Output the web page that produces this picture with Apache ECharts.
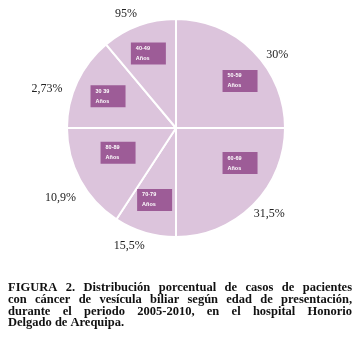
<!DOCTYPE html>
<html>
<head>
<meta charset="utf-8">
<script src="https://cdn.jsdelivr.net/npm/echarts@6/dist/echarts.min.js"></script>
<style>
html,body{margin:0;padding:0;background:#fff;}
#chart{width:358px;height:337px;}
</style>
</head>
<body>
<div id="chart"></div>
<script>
// ---- data ----
const ageRanges = ['50-59', '60-69', '70-79', '80-89', '30 39', '40-49'];
const unitLabel = 'Años';
// share of the circle each slice occupies as drawn (percent of 360°)
const sliceShare = [25, 25, 9.2, 15.8, 13.9, 11.1];
// printed percentage labels
const percentLabels = ['30%', '31,5%', '15,5%', '10,9%', '2,73%', '95%'];
const captionLines = [
  'FIGURA  2. Distribución porcentual de casos  de pacientes',
  'con cáncer de vesícula biliar según edad de presentación,',
  'durante el periodo  2005-2010, en el hospital Honorio',
  'Delgado de Arequipa.'
];

// ---- styling ----
const boxNudge = [[11, 6], [11, -18], [0, 0], [8, -11], [0, 0], [-2, -4]];
const pctNudge = [[10, 18], [2, -5], [-10, -6], [-2, 8], [-12, 15], [-6, 7]];
const sliceColor = '#dcc4dc';
const boxColor = '#9d5c97';
const center = [176, 128];

const seriesData = sliceShare.map((v, i) => ({ name: ageRanges[i] + ' ' + unitLabel, value: v }));

// caption with justified lines
const capFont = 'bold 12.5px "Liberation Serif"';
const capLeft = 8, capRight = 352, capTop = 288, capLH = 11.7;
const ctx = document.createElement('canvas').getContext('2d');
ctx.font = capFont;
const graphics = [];
captionLines.forEach((line, li) => {
  const words = line.split(/\s+/);
  const widths = words.map(w => ctx.measureText(w).width);
  const total = widths.reduce((a, b) => a + b, 0);
  const justify = li < captionLines.length - 1;
  const gap = justify ? (capRight - capLeft - total) / (words.length - 1) : ctx.measureText(' ').width;
  let x = capLeft;
  words.forEach((w, wi) => {
    graphics.push({
      type: 'text', x: x, y: capTop + li * capLH, silent: true,
      style: { text: w, font: capFont, fill: '#111', verticalAlign: 'middle', align: 'left' }
    });
    x += widths[wi] + gap;
  });
});

const chart = echarts.init(document.getElementById('chart'), null, { renderer: 'canvas' });
chart.setOption({
  animation: false,
  backgroundColor: '#fff',
  series: [
    {
      type: 'pie', silent: true, center: center, radius: [0, 109], startAngle: 90, clockwise: true,
      data: seriesData,
      itemStyle: { color: sliceColor, borderColor: '#fff', borderWidth: 2 },
      label: { show: false }, labelLine: { show: false }, emphasis: { disabled: true }
    },
    {
      type: 'pie', silent: true, center: center, radius: [44, 100], startAngle: 90, clockwise: true,
      data: seriesData,
      itemStyle: { color: 'rgba(0,0,0,0)' },
      labelLine: { show: false }, emphasis: { disabled: true },
      label: {
        show: true, position: 'inside',
        formatter: p => '{a|' + ageRanges[p.dataIndex] + '}\n{a|' + unitLabel + '}',
        backgroundColor: boxColor, padding: [1, 5], width: 25, height: 20,
        rich: { a: { color: '#fff', fontSize: 5.5, fontWeight: 'bold', fontFamily: 'Liberation Sans', lineHeight: 10, align: 'left' } }
      },
      labelLayout: p => ({ dx: boxNudge[p.dataIndex][0], dy: boxNudge[p.dataIndex][1] })
    },
    {
      type: 'pie', silent: true, center: center, radius: [112, 140], startAngle: 90, clockwise: true,
      data: seriesData,
      itemStyle: { color: 'rgba(0,0,0,0)' },
      labelLine: { show: false }, emphasis: { disabled: true },
      label: {
        show: true, position: 'inside',
        formatter: p => percentLabels[p.dataIndex],
        color: '#222', fontSize: 12, fontFamily: 'Liberation Serif'
      },
      labelLayout: p => ({ dx: pctNudge[p.dataIndex][0], dy: pctNudge[p.dataIndex][1] })
    }
  ],
  graphic: graphics
});
</script>
</body>
</html>
